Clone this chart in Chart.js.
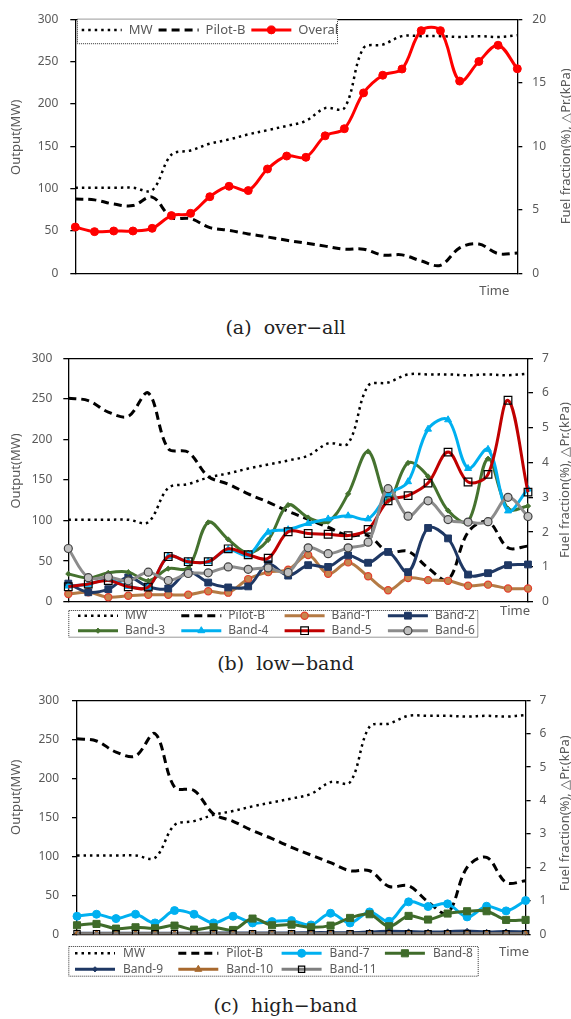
<!DOCTYPE html>
<html>
<head>
<meta charset="utf-8">
<script src="https://cdn.jsdelivr.net/npm/chart.js@4.4.1/dist/chart.umd.min.js"></script>
<style>
    html, body { margin: 0; padding: 0; background: #fff; }
    body { width: 571px; height: 1019px; position: relative; overflow: hidden; }
    .panel { position: absolute; left: 0; width: 571px; height: 300px; }
    .cap { position: absolute; left: 0; width: 571px; text-align: center; white-space: pre;
           font-family: "DejaVu Serif", serif; font-size: 19px; line-height: 24px; color: #222; }
</style>
</head>
<body>
<div class="panel" style="top:0px"><canvas id="chartA"></canvas></div>
<div class="cap" style="top:315px">(a)  over−all</div>
<div class="panel" style="top:340px"><canvas id="chartB"></canvas></div>
<div class="cap" style="top:651px">(b)  low−band</div>
<div class="panel" style="top:680px"><canvas id="chartC"></canvas></div>
<div class="cap" style="top:993px">(c)  high−band</div>

<script>
// time steps (no tick labels are shown on the x axis)
const timeSteps = [1, 2, 3, 4, 5, 6, 7, 8, 9, 10, 11, 12, 13, 14, 15, 16, 17, 18, 19, 20, 21, 22, 23, 24];

// left axis: output (MW)
const mwOutput = [101, 101, 101, 101, 98, 140, 145, 153, 158, 164, 169, 174, 180, 195, 195, 266, 270, 280, 280, 280, 279, 280, 279, 281];

// right axis: fuel fraction (%) / dPr (kPa)
const pilotB  = [5.85, 5.78, 5.45, 5.33, 6.0, 4.4, 4.3, 3.6, 3.38, 3.1, 2.86, 2.6, 2.37, 2.14, 1.9, 1.9, 1.43, 1.45, 0.97, 0.63, 2.0, 2.3, 1.55, 1.6];
const overall = [3.64, 3.28, 3.33, 3.33, 3.54, 4.54, 4.72, 6.03, 6.85, 6.51, 8.21, 9.23, 9.13, 10.82, 11.38, 14.2, 15.59, 16.08, 19.1, 19.1, 15.13, 16.67, 17.95, 16.1];

// low band
const band1 = [0.22, 0.27, 0.13, 0.17, 0.2, 0.2, 0.2, 0.3, 0.26, 0.65, 0.85, 0.92, 1.34, 0.8, 1.13, 0.73, 0.33, 0.68, 0.62, 0.6, 0.46, 0.49, 0.38, 0.38];
const band2 = [0.52, 0.27, 0.36, 0.7, 0.43, 0.38, 0.86, 0.55, 0.41, 0.44, 1.08, 0.75, 1.05, 1.0, 1.33, 1.12, 1.43, 0.85, 2.12, 1.82, 0.78, 0.82, 1.05, 1.07];
const band3 = [0.8, 0.68, 0.83, 0.85, 0.6, 0.95, 0.97, 2.28, 1.79, 1.4, 1.78, 2.78, 2.42, 2.3, 3.1, 4.32, 2.9, 3.99, 3.6, 2.62, 2.3, 4.11, 2.67, 2.75];
const band4 = [0.45, 0.5, 0.64, 0.44, 0.42, 1.3, 1.15, 1.15, 1.5, 1.34, 2.0, 2.07, 2.25, 2.38, 2.47, 2.38, 3.08, 3.45, 4.96, 5.23, 3.83, 4.38, 2.61, 3.24];
const band5 = [0.43, 0.51, 0.61, 0.43, 0.42, 1.3, 1.15, 1.15, 1.52, 1.35, 1.25, 2.01, 1.96, 1.94, 1.9, 2.08, 2.9, 3.05, 3.41, 4.3, 3.44, 3.66, 5.79, 3.15];
const band6 = [1.53, 0.69, 0.71, 0.6, 0.85, 0.61, 0.81, 0.83, 1.0, 0.93, 0.97, 0.84, 1.55, 1.38, 1.55, 1.71, 3.25, 2.46, 2.9, 2.36, 2.29, 2.3, 3.0, 2.45];

// high band
const band7  = [0.54, 0.6, 0.47, 0.6, 0.34, 0.71, 0.6, 0.34, 0.54, 0.34, 0.38, 0.41, 0.28, 0.63, 0.34, 0.67, 0.39, 0.97, 0.83, 0.91, 0.52, 0.84, 0.7, 1.01];
const band8  = [0.27, 0.31, 0.17, 0.21, 0.18, 0.26, 0.14, 0.21, 0.13, 0.47, 0.27, 0.29, 0.21, 0.26, 0.49, 0.6, 0.24, 0.55, 0.44, 0.62, 0.69, 0.69, 0.43, 0.43];
const band9  = [0.03, 0.03, 0.03, 0.03, 0.03, 0.03, 0.03, 0.04, 0.04, 0.04, 0.04, 0.04, 0.05, 0.05, 0.05, 0.07, 0.09, 0.08, 0.07, 0.08, 0.1, 0.07, 0.08, 0.07];
const band10 = [0.01, 0.01, 0.01, 0.01, 0.01, 0.01, 0.01, 0.01, 0.01, 0.01, 0.01, 0.01, 0.01, 0.01, 0.01, 0.01, 0.01, 0.01, 0.01, 0.01, 0.01, 0.01, 0.01, 0.01];
const band11 = [0.02, 0.02, 0.02, 0.02, 0.02, 0.02, 0.02, 0.02, 0.02, 0.02, 0.02, 0.02, 0.02, 0.02, 0.02, 0.02, 0.02, 0.02, 0.02, 0.02, 0.02, 0.02, 0.02, 0.02];

const GRAY = '#595959';
const FONT = '"Noto Sans", sans-serif';
Chart.defaults.font.family = FONT;

// line + marker style helper
function line(label, data, axis, color, extra) {
    return Object.assign({
        label: label, data: data, yAxisID: axis,
        borderColor: color, backgroundColor: color,
        borderWidth: 3, tension: 0.35, fill: false,
        pointRadius: 0, pointStyle: 'circle',
        pointBackgroundColor: color, pointBorderColor: color, pointBorderWidth: 1
    }, extra || {});
}

const mwLine    = () => line('MW', mwOutput, 'y', '#000', { borderWidth: 2.5, borderDash: [2.5, 4] });
const pilotLine = () => line('Pilot-B', pilotB, 'y2', '#000', { borderWidth: 3, borderDash: [8, 5] });

// axis titles and the "Time" label
const axisTexts = {
    id: 'axisTexts',
    afterDraw(chart, args, o) {
        const { ctx, chartArea: a } = chart;
        const midY = (a.top + a.bottom) / 2;
        ctx.save();
        ctx.fillStyle = GRAY;
        ctx.font = '13px ' + FONT;
        ctx.textAlign = 'center';
        ctx.textBaseline = 'middle';
        [[o.leftX, midY + o.leftDy, o.left], [o.rightX, midY + o.rightDy, o.right]].forEach(([x, y, t]) => {
            ctx.save();
            ctx.translate(x, y);
            ctx.rotate(-Math.PI / 2);
            ctx.fillText(t, 0, 0);
            ctx.restore();
        });
        ctx.textAlign = 'right';
        ctx.fillText(o.time, a.right + o.timeDx, a.bottom + o.timeDy);
        ctx.restore();
    }
};

// Excel style legend in a dotted box
const boxLegend = {
    id: 'boxLegend',
    afterDraw(chart, args, o) {
        const { ctx, chartArea: a } = chart;
        const bx = a.left + o.dx;
        const by = (o.anchor === 'top' ? a.top : a.bottom) + o.dy;
        ctx.save();
        ctx.fillStyle = '#fff';
        ctx.fillRect(bx, by, o.w, o.h);
        ctx.setLineDash([1, 1]);
        ctx.strokeStyle = '#333';
        ctx.lineWidth = 1;
        ctx.strokeRect(bx + 0.5, by + 0.5, o.w - 1, o.h - 1);
        ctx.beginPath();
        ctx.rect(bx, by, o.w - 1, o.h);
        ctx.clip();
        ctx.font = o.fontSize + 'px ' + FONT;
        ctx.textBaseline = 'middle';
        let fx = bx + o.padL;
        chart.data.datasets.forEach((ds, i) => {
            let sx, sy;
            if (o.cols) {
                sx = bx + o.padL + (i % o.cols) * o.colW;
                sy = by + o.rowY[Math.floor(i / o.cols)];
            } else {
                sx = fx;
                sy = by + o.rowY[0];
            }
            ctx.save();
            ctx.setLineDash(ds.borderDash || []);
            ctx.strokeStyle = ds.borderColor;
            ctx.lineWidth = ds.borderWidth;
            ctx.beginPath();
            ctx.moveTo(sx, sy);
            ctx.lineTo(sx + o.sample, sy);
            ctx.stroke();
            ctx.setLineDash([]);
            if (ds.pointRadius > 0) {
                ctx.fillStyle = ds.pointBackgroundColor;
                ctx.strokeStyle = ds.pointBorderColor;
                ctx.lineWidth = ds.pointBorderWidth;
                Chart.helpers.drawPoint(ctx, {
                    pointStyle: ds.pointStyle, radius: ds.pointRadius,
                    borderWidth: ds.pointBorderWidth, rotation: 0
                }, sx + o.sample / 2, sy);
            }
            ctx.restore();
            ctx.fillStyle = GRAY;
            ctx.textAlign = 'left';
            ctx.fillText(ds.label, sx + o.sample + o.gap, sy);
            fx = sx + o.sample + o.gap + ctx.measureText(ds.label).width + o.itemGap;
        });
        ctx.restore();
    }
};

function makeScales(g, rightMax, rightStep) {
    const tickFont = { size: 12, family: FONT };
    const border = { color: '#000', width: 1.3 };
    return {
        x: {
            position: 'bottom', offset: false,
            ticks: { display: false }, grid: { display: false, drawTicks: false }, border: border,
            afterFit: s => { s.height = g.h - g.bottom; }
        },
        xTop: {
            type: 'category', position: 'top', offset: false,
            ticks: { display: false }, grid: { display: false, drawTicks: false }, border: border,
            afterFit: s => { s.height = g.top; }
        },
        y: {
            position: 'left', min: 0, max: 300,
            ticks: { stepSize: 50, color: GRAY, font: tickFont, padding: g.lpad },
            grid: { drawOnChartArea: false, color: '#000', tickLength: 5, lineWidth: 1.3 },
            border: border,
            afterFit: s => { s.width = g.left; }
        },
        y2: {
            position: 'right', min: 0, max: rightMax,
            ticks: { stepSize: rightStep, color: GRAY, font: tickFont, padding: g.rpad },
            grid: { drawOnChartArea: false, color: '#000', tickLength: 5, lineWidth: 1.3 },
            border: border,
            afterFit: s => { s.width = g.w - g.right; }
        }
    };
}

function buildChart(id, g, datasets, rightMax, rightStep, texts, legend) {
    return new Chart(document.getElementById(id), {
        type: 'line',
        data: {
            labels: timeSteps,
            // later series are drawn on top, as in the original
            datasets: datasets.map((d, i) => Object.assign({ order: -i }, d))
        },
        options: {
            responsive: true, maintainAspectRatio: false, animation: false, events: [],
            layout: { padding: 0 },
            scales: makeScales(g, rightMax, rightStep),
            plugins: {
                legend: { display: false }, tooltip: { enabled: false },
                axisTexts: texts, boxLegend: legend
            }
        },
        plugins: [axisTexts, boxLegend]
    });
}

const TITLE_L = 'Output(MW)';
const TITLE_R = 'Fuel fraction(%), △Pr.(kPa)';

// (a) over-all
buildChart('chartA',
    { w: 571, h: 300, top: 13.3, bottom: 273.3, left: 75.3, right: 517.3, lpad: 12, rpad: 10 },
    [
        mwLine(),
        pilotLine(),
        line('Overall', overall, 'y2', '#ff0000', { pointRadius: 4, pointBorderWidth: 1 })
    ],
    20, 5,
    { left: TITLE_L, leftX: 16.4, leftDy: -9, right: TITLE_R, rightX: 566.5, rightDy: 0, time: 'Time', timeDx: -8, timeDy: 17.7 },
    { anchor: 'top', dx: 1.7, dy: -0.6, w: 261, h: 25.6, padL: 4.7, rowY: [11.3], sample: 40, gap: 7, itemGap: 6, fontSize: 13 }
);

// (b) low-band
buildChart('chartB',
    { w: 571, h: 300, top: 11.7, bottom: 261.7, left: 68.3, right: 528, lpad: 11, rpad: 9 },
    [
        mwLine(),
        pilotLine(),
        line('Band-1', band1, 'y2', '#b47a44', { pointRadius: 3.6, pointBackgroundColor: '#c8864e', pointBorderColor: '#e2402e', pointBorderWidth: 1.2 }),
        line('Band-2', band2, 'y2', '#1f3864', { pointRadius: 4.8, pointStyle: 'rect' }),
        line('Band-3', band3, 'y2', '#45722f', { pointRadius: 2.6, pointStyle: 'rectRot' }),
        line('Band-4', band4, 'y2', '#00b0f0', { pointRadius: 4, pointStyle: 'triangle' }),
        line('Band-5', band5, 'y2', '#c00000', { pointRadius: 5.4, pointStyle: 'rect', pointBackgroundColor: 'rgba(0,0,0,0)', pointBorderColor: '#000', pointBorderWidth: 1.2 }),
        line('Band-6', band6, 'y2', '#8c8c8c', { pointRadius: 4, pointBackgroundColor: '#bfbfbf', pointBorderColor: '#404040', pointBorderWidth: 1.2 })
    ],
    7, 1,
    { left: TITLE_L, leftX: 16.4, leftDy: -9, right: TITLE_R, rightX: 565.7, rightDy: 0, time: 'Time', timeDx: 2, timeDy: 10 },
    { anchor: 'bottom', dx: 0, dy: 8.3, w: 410, h: 27.7, cols: 4, colW: 103.3, padL: 9.7, rowY: [5.7, 20.7], sample: 40, gap: 7, itemGap: 0, fontSize: 12 }
);

// (c) high-band
buildChart('chartC',
    { w: 571, h: 300, top: 11, bottom: 254.3, left: 77, right: 525.6, lpad: 13, rpad: 9 },
    [
        mwLine(),
        pilotLine(),
        line('Band-7', band7, 'y2', '#00b0f0', { pointRadius: 4 }),
        line('Band-8', band8, 'y2', '#3f6b2a', { pointRadius: 5, pointStyle: 'rect' }),
        line('Band-9', band9, 'y2', '#1f3864', { pointRadius: 2.6, pointStyle: 'rectRot' }),
        line('Band-10', band10, 'y2', '#a8692e', { pointRadius: 4, pointStyle: 'triangle' }),
        line('Band-11', band11, 'y2', '#7f7f7f', { pointRadius: 4.4, pointStyle: 'rect', pointBackgroundColor: 'rgba(0,0,0,0)', pointBorderColor: '#000', pointBorderWidth: 1.2 })
    ],
    7, 1,
    { left: TITLE_L, leftX: 16.4, leftDy: -20, right: TITLE_R, rightX: 565.7, rightDy: -4, time: 'Time', timeDx: 3.4, timeDy: 18.4 },
    { anchor: 'bottom', dx: -8.7, dy: 11.7, w: 410.4, h: 30.7, cols: 4, colW: 103.3, padL: 6.7, rowY: [7.3, 23.3], sample: 40, gap: 8, itemGap: 0, fontSize: 12 }
);
</script>
</body>
</html>
